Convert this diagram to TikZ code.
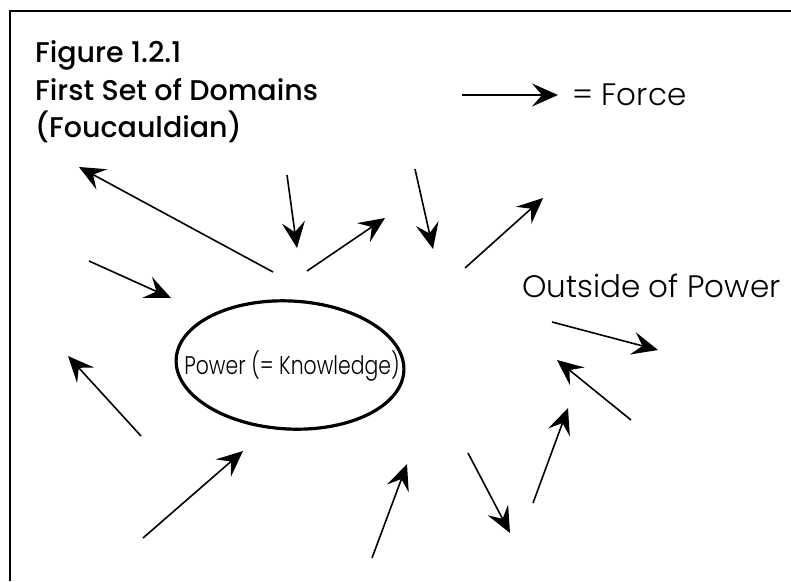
\documentclass[tikz,border=0pt]{standalone}
\usepackage{fontspec}
\setmainfont{Poppins}
\newfontfamily\titlefont{Poppins Medium}
\newfontfamily\lightfont{Poppins Light}
\usetikzlibrary{arrows.meta,shapes.geometric}
\begin{document}
\begin{tikzpicture}[x=1pt,y=-1pt,
  force/.style={-{Stealth[length=26pt,width=23pt,inset=10pt]},line width=1.6pt},
  frame/.style={line width=1.6pt},
  heading/.style={font=\titlefont\fontsize{28.5}{34}\selectfont,anchor=base west,inner sep=0pt},
  caption/.style={font=\lightfont\fontsize{31}{36}\selectfont,anchor=base west,inner sep=0pt},
  inner/.style={font=\lightfont\fontsize{25.5}{30}\selectfont,inner sep=0pt},
  ring/.style={draw,ellipse,line width=3.2pt,minimum width=228pt,minimum height=128pt,inner sep=0pt}]
\useasboundingbox (0,0) rectangle (791,581);
% open frame: top and left edges
\coordinate (fr1) at (791,11);
\coordinate (fr2) at (10,11);
\coordinate (fr3) at (10,581);
\draw[frame] (fr1) -- (fr2) -- (fr3);

% title block
\node[heading] (t1) at (35,62) {Figure 1.2.1};
\node[heading] (t2) at (35,100) {First Set of Domains};
\node[heading] (t3) at (35,137) {(Foucauldian)};

% legend
\coordinate (lg1) at (462,95);
\coordinate (lg2) at (558,95);
\draw[force] (lg1) -- (lg2);
\node[caption] (lgtext) at (572,105) {= Force};

% central domain
\node[ring,rotate=-3] (power) at (290,365) {};
\node[inner] (powertext) at (292,366) {\scalebox{0.8}[1]{Power (= Knowledge)}};
\node[caption] (outside) at (522,297) {Outside of Power};

% forces
\foreach \n/\ax/\ay/\bx/\by in {
  a/273/272/79/167,
  b/287/175/297/248,
  c/89/261/171/298,
  d/307/271/385/218,
  e/415/169/433/249,
  f/465/268/543/198,
  g/143/538/243/451,
  h/372/558/407/464,
  i/468/453/510/533,
  j/533/503/568/408,
  k/141/436/68/356,
  l/552/322/658/350,
  m/631/420/557/360}{
  \coordinate (\n0) at (\ax,\ay);
  \coordinate (\n1) at (\bx,\by);
  \draw[force] (\n0) -- (\n1);
}
\end{tikzpicture}
\end{document}
